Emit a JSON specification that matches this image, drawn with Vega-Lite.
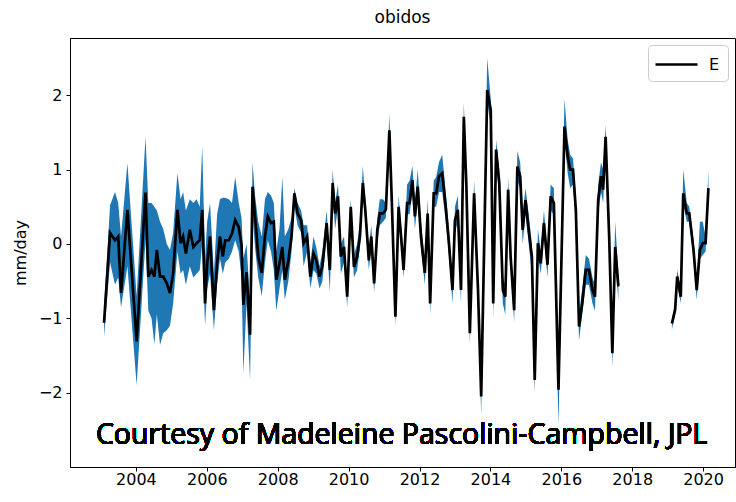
{
  "$schema": "https://vega.github.io/schema/vega-lite/v6.json",
  "autosize": "none",
  "width": 665,
  "height": 429,
  "padding": {"left": 70, "top": 38, "right": 1, "bottom": 35},
  "background": "white",
  "title": {"text": "obidos", "font": "DejaVu Sans", "fontSize": 17, "fontWeight": "normal", "color": "black", "offset": 11},
  "config": {
    "view": {"stroke": "black", "strokeWidth": 1},
    "axis": {"grid": false, "domainColor": "black", "tickColor": "black", "labelColor": "black", "labelFont": "DejaVu Sans", "labelFontSize": 16, "titleFont": "DejaVu Sans", "titleFontSize": 16, "titleFontWeight": "normal", "titleColor": "black", "tickSize": 4, "labelPadding": 4}
  },
  "data": {"values": [
    {"t": 2003.10, "E": -1.06, "lo": -1.25, "hi": -0.85, "s": 1},
    {"t": 2003.27, "E": 0.15, "lo": -0.25, "hi": 0.52, "s": 1},
    {"t": 2003.41, "E": 0.05, "lo": -0.55, "hi": 0.70, "s": 1},
    {"t": 2003.50, "E": 0.10, "lo": -0.45, "hi": 0.55, "s": 1},
    {"t": 2003.58, "E": -0.66, "lo": -0.85, "hi": 0.10, "s": 1},
    {"t": 2003.76, "E": 0.46, "lo": -0.30, "hi": 1.09, "s": 1},
    {"t": 2004.02, "E": -1.31, "lo": -1.90, "hi": -0.70, "s": 1},
    {"t": 2004.27, "E": 0.69, "lo": 0.05, "hi": 1.44, "s": 1},
    {"t": 2004.35, "E": -0.44, "lo": -0.90, "hi": 0.55, "s": 1},
    {"t": 2004.44, "E": -0.35, "lo": -1.00, "hi": 0.55, "s": 1},
    {"t": 2004.52, "E": -0.44, "lo": -1.35, "hi": 0.50, "s": 1},
    {"t": 2004.59, "E": -0.08, "lo": -0.95, "hi": 0.45, "s": 1},
    {"t": 2004.68, "E": -0.44, "lo": -1.36, "hi": 0.30, "s": 1},
    {"t": 2004.77, "E": -0.44, "lo": -1.20, "hi": 0.20, "s": 1},
    {"t": 2004.87, "E": -0.53, "lo": -1.16, "hi": 0.00, "s": 1},
    {"t": 2004.96, "E": -0.66, "lo": -1.10, "hi": -0.08, "s": 1},
    {"t": 2005.05, "E": -0.40, "lo": -0.80, "hi": 0.15, "s": 1},
    {"t": 2005.17, "E": 0.46, "lo": -0.10, "hi": 0.95, "s": 1},
    {"t": 2005.26, "E": 0.01, "lo": -0.40, "hi": 0.60, "s": 1},
    {"t": 2005.33, "E": 0.10, "lo": -0.35, "hi": 0.70, "s": 1},
    {"t": 2005.41, "E": -0.13, "lo": -0.55, "hi": 0.45, "s": 1},
    {"t": 2005.52, "E": 0.19, "lo": -0.30, "hi": 0.60, "s": 1},
    {"t": 2005.62, "E": -0.04, "lo": -0.45, "hi": 0.55, "s": 1},
    {"t": 2005.71, "E": 0.01, "lo": -0.40, "hi": 0.60, "s": 1},
    {"t": 2005.80, "E": 0.05, "lo": -0.35, "hi": 0.50, "s": 1},
    {"t": 2005.87, "E": 0.46, "lo": 0.00, "hi": 1.31, "s": 1},
    {"t": 2005.95, "E": -0.80, "lo": -1.10, "hi": -0.20, "s": 1},
    {"t": 2006.01, "E": -0.26, "lo": -0.60, "hi": 0.30, "s": 1},
    {"t": 2006.09, "E": 0.10, "lo": -0.40, "hi": 0.55, "s": 1},
    {"t": 2006.20, "E": -0.89, "lo": -1.16, "hi": -0.40, "s": 1},
    {"t": 2006.29, "E": -0.26, "lo": -0.55, "hi": 0.40, "s": 1},
    {"t": 2006.37, "E": 0.10, "lo": -0.20, "hi": 0.60, "s": 1},
    {"t": 2006.45, "E": -0.17, "lo": -0.40, "hi": 0.62, "s": 1},
    {"t": 2006.52, "E": 0.05, "lo": -0.25, "hi": 0.62, "s": 1},
    {"t": 2006.62, "E": 0.05, "lo": -0.20, "hi": 0.60, "s": 1},
    {"t": 2006.71, "E": 0.14, "lo": -0.10, "hi": 0.55, "s": 1},
    {"t": 2006.80, "E": 0.32, "lo": 0.05, "hi": 0.90, "s": 1},
    {"t": 2006.90, "E": 0.23, "lo": -0.10, "hi": 0.55, "s": 1},
    {"t": 2006.98, "E": -0.02, "lo": -0.45, "hi": 0.35, "s": 1},
    {"t": 2007.03, "E": -0.82, "lo": -1.74, "hi": -0.20, "s": 1},
    {"t": 2007.12, "E": -0.38, "lo": -0.80, "hi": 0.00, "s": 1},
    {"t": 2007.22, "E": -1.22, "lo": -1.83, "hi": -0.80, "s": 1},
    {"t": 2007.29, "E": 0.77, "lo": 0.40, "hi": 1.10, "s": 1},
    {"t": 2007.36, "E": 0.37, "lo": -0.05, "hi": 0.65, "s": 1},
    {"t": 2007.45, "E": -0.17, "lo": -0.45, "hi": 0.30, "s": 1},
    {"t": 2007.55, "E": -0.39, "lo": -0.70, "hi": 0.10, "s": 1},
    {"t": 2007.64, "E": 0.10, "lo": -0.25, "hi": 0.60, "s": 1},
    {"t": 2007.72, "E": 0.37, "lo": 0.05, "hi": 0.70, "s": 1},
    {"t": 2007.81, "E": 0.28, "lo": -0.10, "hi": 0.65, "s": 1},
    {"t": 2007.89, "E": 0.30, "lo": -0.35, "hi": 0.55, "s": 1},
    {"t": 2007.96, "E": -0.48, "lo": -0.90, "hi": -0.10, "s": 1},
    {"t": 2008.05, "E": -0.26, "lo": -0.60, "hi": 0.20, "s": 1},
    {"t": 2008.13, "E": -0.04, "lo": -0.35, "hi": 0.90, "s": 1},
    {"t": 2008.20, "E": -0.48, "lo": -0.75, "hi": 0.10, "s": 1},
    {"t": 2008.30, "E": -0.22, "lo": -0.50, "hi": 0.20, "s": 1},
    {"t": 2008.39, "E": 0.10, "lo": -0.10, "hi": 0.35, "s": 1},
    {"t": 2008.47, "E": 0.68, "lo": 0.50, "hi": 0.75, "s": 1},
    {"t": 2008.56, "E": 0.41, "lo": 0.25, "hi": 0.55, "s": 1},
    {"t": 2008.66, "E": 0.32, "lo": 0.15, "hi": 0.45, "s": 1},
    {"t": 2008.73, "E": 0.01, "lo": -0.30, "hi": 0.25, "s": 1},
    {"t": 2008.83, "E": 0.10, "lo": -0.10, "hi": 0.25, "s": 1},
    {"t": 2008.92, "E": -0.44, "lo": -0.60, "hi": -0.25, "s": 1},
    {"t": 2009.01, "E": -0.13, "lo": -0.35, "hi": 0.10, "s": 1},
    {"t": 2009.09, "E": -0.22, "lo": -0.40, "hi": -0.05, "s": 1},
    {"t": 2009.18, "E": -0.44, "lo": -0.60, "hi": -0.30, "s": 1},
    {"t": 2009.26, "E": -0.30, "lo": -0.50, "hi": -0.10, "s": 1},
    {"t": 2009.38, "E": 0.28, "lo": 0.10, "hi": 0.45, "s": 1},
    {"t": 2009.47, "E": -0.35, "lo": -0.65, "hi": -0.20, "s": 1},
    {"t": 2009.55, "E": 0.82, "lo": 0.65, "hi": 1.00, "s": 1},
    {"t": 2009.62, "E": 0.41, "lo": 0.20, "hi": 0.55, "s": 1},
    {"t": 2009.70, "E": 0.64, "lo": 0.50, "hi": 0.80, "s": 1},
    {"t": 2009.78, "E": -0.17, "lo": -0.40, "hi": 0.00, "s": 1},
    {"t": 2009.87, "E": -0.04, "lo": -0.25, "hi": 0.10, "s": 1},
    {"t": 2009.96, "E": -0.71, "lo": -0.85, "hi": -0.55, "s": 1},
    {"t": 2010.06, "E": 0.50, "lo": 0.35, "hi": 0.60, "s": 1},
    {"t": 2010.15, "E": -0.31, "lo": -0.45, "hi": -0.15, "s": 1},
    {"t": 2010.24, "E": -0.17, "lo": -0.35, "hi": 0.00, "s": 1},
    {"t": 2010.32, "E": 0.10, "lo": -0.05, "hi": 0.30, "s": 1},
    {"t": 2010.40, "E": 0.82, "lo": 0.70, "hi": 1.05, "s": 1},
    {"t": 2010.47, "E": 0.46, "lo": 0.30, "hi": 0.60, "s": 1},
    {"t": 2010.57, "E": -0.22, "lo": -0.35, "hi": -0.05, "s": 1},
    {"t": 2010.64, "E": 0.10, "lo": -0.05, "hi": 0.25, "s": 1},
    {"t": 2010.72, "E": -0.53, "lo": -0.65, "hi": -0.40, "s": 1},
    {"t": 2010.81, "E": 0.19, "lo": 0.05, "hi": 0.35, "s": 1},
    {"t": 2010.88, "E": 0.41, "lo": 0.25, "hi": 0.60, "s": 1},
    {"t": 2010.97, "E": 0.41, "lo": 0.30, "hi": 0.60, "s": 1},
    {"t": 2011.05, "E": 0.46, "lo": 0.35, "hi": 0.55, "s": 1},
    {"t": 2011.15, "E": 1.53, "lo": 1.40, "hi": 1.75, "s": 1},
    {"t": 2011.22, "E": 0.55, "lo": 0.40, "hi": 0.70, "s": 1},
    {"t": 2011.32, "E": -0.98, "lo": -1.10, "hi": -0.85, "s": 1},
    {"t": 2011.41, "E": 0.50, "lo": 0.35, "hi": 0.65, "s": 1},
    {"t": 2011.48, "E": 0.10, "lo": -0.05, "hi": 0.25, "s": 1},
    {"t": 2011.55, "E": -0.35, "lo": -0.45, "hi": -0.20, "s": 1},
    {"t": 2011.65, "E": 0.55, "lo": 0.40, "hi": 0.80, "s": 1},
    {"t": 2011.72, "E": 0.55, "lo": 0.40, "hi": 0.85, "s": 1},
    {"t": 2011.80, "E": 0.86, "lo": 0.70, "hi": 1.05, "s": 1},
    {"t": 2011.87, "E": 0.37, "lo": 0.20, "hi": 0.55, "s": 1},
    {"t": 2011.95, "E": 0.77, "lo": 0.60, "hi": 1.00, "s": 1},
    {"t": 2012.04, "E": 0.10, "lo": -0.05, "hi": 0.30, "s": 1},
    {"t": 2012.15, "E": -0.39, "lo": -0.55, "hi": -0.20, "s": 1},
    {"t": 2012.23, "E": 0.41, "lo": 0.25, "hi": 0.60, "s": 1},
    {"t": 2012.30, "E": -0.80, "lo": -0.95, "hi": -0.65, "s": 1},
    {"t": 2012.40, "E": 0.68, "lo": 0.50, "hi": 0.85, "s": 1},
    {"t": 2012.47, "E": 0.68, "lo": 0.50, "hi": 0.90, "s": 1},
    {"t": 2012.55, "E": 0.91, "lo": 0.70, "hi": 1.10, "s": 1},
    {"t": 2012.64, "E": 0.95, "lo": 0.70, "hi": 1.20, "s": 1},
    {"t": 2012.74, "E": 0.50, "lo": 0.30, "hi": 0.70, "s": 1},
    {"t": 2012.83, "E": 0.01, "lo": -0.15, "hi": 0.20, "s": 1},
    {"t": 2012.93, "E": -0.62, "lo": -0.80, "hi": -0.45, "s": 1},
    {"t": 2013.00, "E": 0.32, "lo": 0.15, "hi": 0.50, "s": 1},
    {"t": 2013.08, "E": 0.46, "lo": 0.30, "hi": 0.65, "s": 1},
    {"t": 2013.17, "E": -0.62, "lo": -0.80, "hi": -0.50, "s": 1},
    {"t": 2013.25, "E": 1.71, "lo": 1.55, "hi": 1.90, "s": 1},
    {"t": 2013.32, "E": 0.82, "lo": 0.65, "hi": 1.00, "s": 1},
    {"t": 2013.42, "E": -1.20, "lo": -1.35, "hi": -1.05, "s": 1},
    {"t": 2013.54, "E": 0.68, "lo": 0.55, "hi": 0.85, "s": 1},
    {"t": 2013.65, "E": -0.62, "lo": -0.80, "hi": -0.50, "s": 1},
    {"t": 2013.74, "E": -2.05, "lo": -2.30, "hi": -1.90, "s": 1},
    {"t": 2013.91, "E": 2.07, "lo": 1.90, "hi": 2.50, "s": 1},
    {"t": 2014.01, "E": 1.80, "lo": 1.60, "hi": 1.95, "s": 1},
    {"t": 2014.08, "E": -0.80, "lo": -1.00, "hi": -0.65, "s": 1},
    {"t": 2014.16, "E": 1.27, "lo": 1.10, "hi": 1.40, "s": 1},
    {"t": 2014.25, "E": 0.82, "lo": 0.60, "hi": 1.00, "s": 1},
    {"t": 2014.35, "E": -0.62, "lo": -0.80, "hi": -0.45, "s": 1},
    {"t": 2014.42, "E": -0.71, "lo": -0.95, "hi": -0.55, "s": 1},
    {"t": 2014.50, "E": 0.73, "lo": 0.55, "hi": 0.90, "s": 1},
    {"t": 2014.57, "E": -0.17, "lo": -0.35, "hi": 0.00, "s": 1},
    {"t": 2014.67, "E": -0.89, "lo": -1.05, "hi": -0.75, "s": 1},
    {"t": 2014.76, "E": 1.04, "lo": 0.85, "hi": 1.25, "s": 1},
    {"t": 2014.84, "E": 0.91, "lo": 0.75, "hi": 1.10, "s": 1},
    {"t": 2014.91, "E": 0.19, "lo": 0.00, "hi": 0.40, "s": 1},
    {"t": 2014.99, "E": 0.59, "lo": 0.40, "hi": 0.75, "s": 1},
    {"t": 2015.08, "E": 0.19, "lo": 0.00, "hi": 0.40, "s": 1},
    {"t": 2015.17, "E": -0.17, "lo": -0.40, "hi": 0.00, "s": 1},
    {"t": 2015.25, "E": -1.83, "lo": -2.00, "hi": -1.70, "s": 1},
    {"t": 2015.34, "E": 0.01, "lo": -0.15, "hi": 0.20, "s": 1},
    {"t": 2015.42, "E": -0.26, "lo": -0.40, "hi": -0.10, "s": 1},
    {"t": 2015.51, "E": 0.28, "lo": 0.10, "hi": 0.45, "s": 1},
    {"t": 2015.61, "E": -0.28, "lo": -0.45, "hi": -0.10, "s": 1},
    {"t": 2015.70, "E": 0.64, "lo": 0.45, "hi": 0.80, "s": 1},
    {"t": 2015.79, "E": 0.55, "lo": 0.40, "hi": 0.75, "s": 1},
    {"t": 2015.92, "E": -1.96, "lo": -2.45, "hi": -1.80, "s": 1},
    {"t": 2016.09, "E": 1.58, "lo": 1.40, "hi": 1.95, "s": 1},
    {"t": 2016.18, "E": 1.18, "lo": 0.95, "hi": 1.40, "s": 1},
    {"t": 2016.25, "E": 1.00, "lo": 0.75, "hi": 1.20, "s": 1},
    {"t": 2016.33, "E": 1.00, "lo": 0.80, "hi": 1.15, "s": 1},
    {"t": 2016.41, "E": 0.46, "lo": 0.25, "hi": 0.65, "s": 1},
    {"t": 2016.50, "E": -1.11, "lo": -1.30, "hi": -0.95, "s": 1},
    {"t": 2016.59, "E": -0.80, "lo": -0.95, "hi": -0.60, "s": 1},
    {"t": 2016.69, "E": -0.35, "lo": -0.55, "hi": -0.15, "s": 1},
    {"t": 2016.78, "E": -0.35, "lo": -0.55, "hi": -0.20, "s": 1},
    {"t": 2016.88, "E": -0.62, "lo": -0.80, "hi": -0.45, "s": 1},
    {"t": 2016.95, "E": -0.71, "lo": -0.90, "hi": -0.55, "s": 1},
    {"t": 2017.04, "E": 0.59, "lo": 0.40, "hi": 0.80, "s": 1},
    {"t": 2017.12, "E": 0.91, "lo": 0.70, "hi": 1.10, "s": 1},
    {"t": 2017.18, "E": 0.73, "lo": 0.55, "hi": 1.00, "s": 1},
    {"t": 2017.25, "E": 1.44, "lo": 1.25, "hi": 1.60, "s": 1},
    {"t": 2017.35, "E": 0.10, "lo": -0.10, "hi": 0.30, "s": 1},
    {"t": 2017.44, "E": -1.47, "lo": -1.65, "hi": -1.30, "s": 1},
    {"t": 2017.52, "E": -0.04, "lo": -0.25, "hi": 0.30, "s": 1},
    {"t": 2017.61, "E": -0.57, "lo": -0.75, "hi": -0.40, "s": 1},
    {"t": 2019.12, "E": -1.07, "lo": -1.15, "hi": -1.00, "s": 2},
    {"t": 2019.21, "E": -0.89, "lo": -0.95, "hi": -0.80, "s": 2},
    {"t": 2019.27, "E": -0.44, "lo": -0.55, "hi": -0.35, "s": 2},
    {"t": 2019.37, "E": -0.71, "lo": -0.80, "hi": -0.60, "s": 2},
    {"t": 2019.44, "E": 0.68, "lo": 0.55, "hi": 1.00, "s": 2},
    {"t": 2019.54, "E": 0.41, "lo": 0.30, "hi": 0.55, "s": 2},
    {"t": 2019.61, "E": 0.41, "lo": 0.30, "hi": 0.50, "s": 2},
    {"t": 2019.73, "E": -0.08, "lo": -0.20, "hi": 0.05, "s": 2},
    {"t": 2019.82, "E": -0.62, "lo": -0.75, "hi": -0.50, "s": 2},
    {"t": 2019.91, "E": -0.08, "lo": -0.20, "hi": 0.30, "s": 2},
    {"t": 2019.99, "E": 0.01, "lo": -0.15, "hi": 0.30, "s": 2},
    {"t": 2020.07, "E": 0.01, "lo": -0.10, "hi": 0.10, "s": 2},
    {"t": 2020.15, "E": 0.75, "lo": 0.65, "hi": 1.00, "s": 2}
  ]},
  "encoding": {
    "x": {"field": "t", "type": "quantitative", "title": null,
      "scale": {"domain": [2002.14, 2020.9], "nice": false, "zero": false},
      "axis": {"values": [2004, 2006, 2008, 2010, 2012, 2014, 2016, 2018, 2020], "format": "d", "labelPadding": 0}}
  },
  "layer": [
    {
      "mark": {"type": "area", "color": "#1f77b4", "opacity": 1},
      "encoding": {
        "y": {"field": "lo", "type": "quantitative", "title": "mm/day",
          "scale": {"domain": [-3.0, 2.77], "nice": false, "zero": false},
          "axis": {"values": [-2, -1, 0, 1, 2], "labelExpr": "replace(format(datum.value, 'd'), '-', '\u2212')", "titlePadding": 10}},
        "y2": {"field": "hi"},
        "detail": {"field": "s", "type": "nominal"}
      }
    },
    {
      "mark": {"type": "line", "strokeWidth": 2.7},
      "encoding": {
        "y": {"field": "E", "type": "quantitative"},
        "detail": {"field": "s", "type": "nominal"},
        "color": {"datum": "E", "scale": {"range": ["black"]},
          "legend": {"title": null, "orient": "top-right", "offset": 7, "symbolType": "M-2.1,0H2.1", "symbolSize": 400, "symbolStrokeWidth": 2.5, "symbolOffset": 9, "labelOffset": 21, "labelFontSize": 16, "labelFont": "DejaVu Sans", "labelColor": "black", "strokeColor": "#cccccc", "fillColor": "white", "padding": 8, "cornerRadius": 4}}
      }
    },
    {
      "mark": {"type": "text", "text": "Courtesy of Madeleine Pascolini-Campbell, JPL", "font": "Open Sans", "fontSize": 28.5, "fontWeight": "normal", "fill": "black", "strokeWidth": 0, "align": "left", "baseline": "middle"},
      "encoding": {
        "x": {"datum": 2002.87},
        "y": {"datum": -2.57}
      }
    }
  ]
}
